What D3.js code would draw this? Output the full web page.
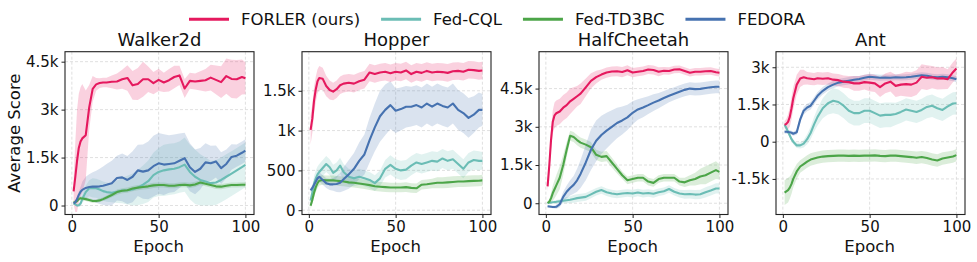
<!DOCTYPE html>
<html>
<head>
<meta charset="utf-8">
<script src="https://cdn.jsdelivr.net/npm/d3@7"></script>
<style>
  body { margin: 0; background: #fff; }
  text { font-family: "DejaVu Sans", sans-serif; fill: #111; }
</style>
</head>
<body>
<svg id="chart" width="977" height="262"></svg>
<script>
const epochs = [1,2,3,4,5,6,8,10,12,14, 16,18,20,23,26,29,32,35,38,41,
  44,47,50,53,56,59,62,65,68,71, 74,77,80,83,86,89,92,95,98,100];

const methods = ["FORLER (ours)", "Fed-CQL", "Fed-TD3BC", "FEDORA"];
const envs = ["Walker2d", "Hopper", "HalfCheetah", "Ant"];
const xTicks = [0, 50, 100];

// y ticks + labels for every env
const walkerTicks = [0, 1500, 3000, 4500], walkerLabels = ["0", "1.5k", "3k", "4.5k"];
const hopperTicks = [0, 500, 1000, 1500], hopperLabels = ["0", "500", "1k", "1.5k"];
const cheetahTicks = [0, 1500, 3000, 4500], cheetahLabels = ["0", "1.5k", "3k", "4.5k"];
const antTicks = [-1500, 0, 1500, 3000], antLabels = ["-1.5k", "0", "1.5k", "3k"];

// Walker2d
const walkerForler = [440,900,1400,1800,2000,2100,2200,3070,3650,3790,
  3830,3850,3850,3870,3880,3950,3990,3760,3800,3950,
  3950,3830,3930,3850,3920,4020,4070,3660,3900,3880,
  3900,3920,4000,3930,3860,4050,3960,3950,4020,3980];
const walkerForlerSd = [400,1100,1600,1700,1700,1700,1400,700,400,200,
  150,150,150,200,250,300,400,450,500,550,
  400,350,350,300,350,350,300,300,250,250,
  300,350,400,450,500,550,600,600,550,500];
const walkerCql = [70,40,0,10,60,200,420,540,550,540,
  500,450,420,400,430,470,480,500,560,650,
  760,950,1050,1100,1130,1150,1200,1280,1050,900,
  800,750,700,720,800,900,1000,1100,1200,1270];
const walkerCqlSd = [30,40,50,60,80,120,200,250,300,300,
  300,300,300,300,350,400,450,500,550,600,
  650,700,750,800,800,800,800,850,850,850,
  800,750,700,700,700,700,700,700,700,700];
const walkerTd3 = [100,110,140,200,230,220,200,170,140,140,
  160,200,250,330,420,460,480,530,560,580,
  600,630,640,640,620,620,640,650,630,660,
  720,680,640,600,590,620,640,640,650,650];
const walkerTd3Sd = [60,60,60,60,60,60,60,60,60,60,
  60,60,60,70,80,80,80,80,80,80,
  80,80,80,80,80,80,80,80,80,80,
  80,80,80,80,80,80,80,80,80,80];
const walkerFedora = [70,100,200,330,430,490,550,580,590,590,
  600,620,650,700,860,880,800,900,1100,1060,
  1100,1230,1320,1280,1300,1320,1400,1480,1200,1050,
  1150,1350,1320,1380,1170,1300,1520,1560,1650,1720];
const walkerFedoraSd = [50,60,80,100,150,250,350,400,450,500,
  550,600,650,700,700,750,750,800,800,850,
  900,950,950,950,900,900,850,800,750,700,
  650,600,550,500,500,450,400,350,350,350];

// Hopper
const hopperForler = [1010,1150,1380,1520,1620,1660,1650,1560,1510,1490,
  1520,1570,1590,1600,1590,1620,1640,1730,1710,1730,
  1740,1720,1740,1730,1755,1710,1740,1725,1750,1730,
  1740,1735,1725,1745,1750,1740,1765,1760,1750,1755];
const hopperForlerSd = [180,180,170,160,150,150,140,130,120,110,
  110,110,110,110,110,110,110,110,110,110,
  110,110,110,110,110,110,110,110,110,110,
  110,110,110,110,110,110,110,110,110,110];
const hopperCql = [120,220,330,400,450,480,530,580,540,470,
  500,560,480,420,400,420,400,380,340,400,
  520,570,520,500,510,560,600,580,600,620,
  610,650,620,640,580,520,600,630,620,620];
const hopperCqlSd = [60,80,100,100,100,100,100,100,100,100,
  100,100,100,100,100,100,100,100,100,100,
  110,120,120,120,120,120,120,120,120,120,
  120,120,120,120,120,120,120,120,120,110];
const hopperTd3 = [55,130,220,290,340,370,380,375,375,375,
  370,365,360,350,345,335,325,315,300,295,
  290,285,285,285,290,280,275,320,325,335,
  345,345,350,355,360,360,365,368,370,375];
const hopperTd3Sd = [40,50,60,60,60,60,60,60,60,60,
  60,60,60,60,60,60,60,60,60,60,
  60,60,60,60,60,60,60,60,60,60,
  70,70,70,70,70,70,70,70,70,70];
const hopperFedora = [250,280,320,360,400,420,380,340,325,325,
  330,345,390,450,520,620,700,880,1040,1180,
  1260,1320,1250,1270,1300,1300,1320,1290,1340,1300,
  1340,1310,1290,1340,1260,1220,1160,1200,1260,1260];
const hopperFedoraSd = [30,40,50,50,60,60,60,60,70,80,
  100,120,150,180,200,230,250,280,300,320,
  320,300,280,270,260,250,250,250,250,250,
  250,250,250,250,250,250,250,230,220,200];

// HalfCheetah
const cheetahForler = [660,1500,2500,3200,3450,3530,3600,3750,3850,4000,
  4100,4200,4300,4550,4800,4950,5050,5130,5170,5180,
  5150,5220,5130,5160,5190,5250,5230,5160,5200,5190,
  5250,5260,5190,5120,5160,5160,5180,5190,5140,5120];
const cheetahForlerSd = [200,300,400,450,500,500,500,500,500,500,
  450,400,400,350,300,250,200,200,200,200,
  200,200,180,180,180,180,180,180,150,150,
  150,150,150,150,150,150,150,150,150,150];
const cheetahCql = [10,20,30,40,50,55,80,100,120,140,
  170,200,220,250,350,450,520,430,380,350,
  380,400,380,420,380,400,370,430,470,560,
  450,380,350,360,340,350,430,500,580,580];
const cheetahCqlSd = [30,30,40,50,60,70,80,100,120,130,
  150,150,150,150,150,150,150,150,150,150,
  150,150,150,150,150,150,150,150,150,150,
  150,150,170,170,180,180,200,200,200,200];
const cheetahTd3 = [10,60,200,400,550,700,1000,1500,2100,2650,
  2600,2480,2380,2300,2200,1900,1820,1850,1600,1350,
  1100,900,950,1000,1000,850,800,950,1000,1000,
  1000,850,820,900,950,1050,1100,1200,1300,1230];
const cheetahTd3Sd = [50,100,200,300,350,400,450,400,300,200,
  200,200,200,200,200,200,200,200,200,180,
  150,150,150,150,150,150,150,150,150,150,
  150,150,180,200,250,300,350,350,350,300];
const cheetahFedora = [-120,-130,-140,-150,-150,-140,-40,250,450,600,
  720,900,1150,1600,2100,2450,2680,2850,3000,3150,
  3250,3370,3550,3680,3760,3850,3950,4030,4130,4220,
  4300,4380,4450,4500,4480,4490,4520,4550,4570,4570];
const cheetahFedoraSd = [50,50,50,50,60,80,120,200,250,300,
  350,450,550,700,800,800,750,700,650,600,
  550,500,450,400,380,350,330,300,280,260,
  250,250,250,250,250,250,250,250,250,250];

// Ant
const antForler = [680,720,800,1000,1350,1750,2300,2550,2600,2560,
  2540,2520,2560,2540,2560,2500,2480,2420,2400,2350,
  2350,2400,2380,2350,2200,2350,2420,2250,2300,2320,
  2300,2380,2620,2580,2600,2550,2560,2520,2800,2950];
const antForlerSd = [150,200,300,400,450,450,400,350,300,250,
  250,250,250,250,250,250,250,250,250,300,
  300,300,350,350,400,400,400,450,450,500,
  500,500,500,500,450,450,450,400,400,400];
const antCql = [680,550,400,250,100,0,-150,-150,-80,100,
  350,700,1000,1350,1550,1650,1600,1450,1250,1150,
  1150,1250,1250,1150,1050,1080,1080,1120,1200,1300,
  1250,1200,1280,1400,1450,1350,1280,1420,1540,1550];
const antCqlSd = [100,100,100,100,100,100,100,120,150,200,
  250,300,350,400,450,500,500,500,500,500,
  500,500,500,500,500,500,500,450,450,450,
  450,450,450,450,450,450,450,450,450,450];
const antTd3 = [-2050,-2000,-1950,-1850,-1700,-1500,-1200,-1000,-900,-800,
  -720,-680,-640,-600,-580,-570,-560,-560,-570,-560,
  -570,-560,-560,-550,-570,-580,-560,-560,-580,-600,
  -620,-650,-620,-660,-720,-760,-680,-640,-600,-540];
const antTd3Sd = [500,500,500,450,400,350,300,250,250,250,
  250,250,250,250,250,250,250,250,250,250,
  250,250,250,250,250,250,250,250,250,250,
  250,250,250,250,250,250,250,250,250,250];
const antFedora = [400,400,390,380,360,320,380,900,1250,1380,
  1450,1650,1850,2050,2200,2300,2380,2420,2460,2500,
  2530,2580,2620,2600,2580,2590,2580,2600,2590,2600,
  2620,2650,2680,2660,2620,2600,2620,2600,2560,2520];
const antFedoraSd = [80,80,80,80,80,80,100,150,150,150,
  150,150,150,150,150,150,150,150,150,150,
  120,120,120,120,120,120,120,120,120,120,
  120,120,120,120,120,120,120,120,120,120];

// ---- layout / style ----
const colors = ["#e5195e", "#6bbdb5", "#4ca548", "#4672b0"];
const panelLefts = [65, 302, 539, 776];
const [panelW, plotTop, plotBottom] = [189, 51.7, 214.5];

// order of series inside each panel follows `methods`
const panels = [
  { name: envs[0], ticks: walkerTicks, labels: walkerLabels, yDomain: [-281, 4812],
    series: [[walkerForler, walkerForlerSd], [walkerCql, walkerCqlSd], [walkerTd3, walkerTd3Sd], [walkerFedora, walkerFedoraSd]] },
  { name: envs[1], ticks: hopperTicks, labels: hopperLabels, yDomain: [-54, 1991],
    series: [[hopperForler, hopperForlerSd], [hopperCql, hopperCqlSd], [hopperTd3, hopperTd3Sd], [hopperFedora, hopperFedoraSd]] },
  { name: envs[2], ticks: cheetahTicks, labels: cheetahLabels, yDomain: [-442, 5948],
    series: [[cheetahForler, cheetahForlerSd], [cheetahCql, cheetahCqlSd], [cheetahTd3, cheetahTd3Sd], [cheetahFedora, cheetahFedoraSd]] },
  { name: envs[3], ticks: antTicks, labels: antLabels, yDomain: [-2934, 3627],
    series: [[antForler, antForlerSd], [antCql, antCqlSd], [antTd3, antTd3Sd], [antFedora, antFedoraSd]] }
];

const svg = d3.select("#chart");

// draw order: baselines first, ours last (on top)
const drawOrder = [1, 2, 3, 0];

panels.forEach((p, pi) => {
  const left = panelLefts[pi];
  const x = d3.scaleLinear().domain([-3.95, 104.95]).range([left, left + panelW]);
  const y = d3.scaleLinear().domain(p.yDomain).range([plotBottom, plotTop]);
  const g = svg.append("g");

  // grid
  g.selectAll("line.gx").data(xTicks).enter().append("line")
    .attr("x1", d => x(d)).attr("x2", d => x(d))
    .attr("y1", plotTop).attr("y2", plotBottom)
    .attr("stroke", "#d8d8d8").attr("stroke-width", 0.8).attr("stroke-dasharray", "3,2");
  g.selectAll("line.gy").data(p.ticks).enter().append("line")
    .attr("x1", left).attr("x2", left + panelW)
    .attr("y1", d => y(d)).attr("y2", d => y(d))
    .attr("stroke", "#d8d8d8").attr("stroke-width", 0.8).attr("stroke-dasharray", "3,2");

  const clipId = "clip" + pi;
  g.append("clipPath").attr("id", clipId).append("rect")
    .attr("x", left).attr("y", plotTop).attr("width", panelW).attr("height", plotBottom - plotTop);
  const plot = g.append("g").attr("clip-path", `url(#${clipId})`);

  // bands
  drawOrder.forEach(si => {
    const [mean, sd] = p.series[si];
    const area = d3.area()
      .x((d, i) => x(epochs[i]))
      .y0((d, i) => y(d - sd[i]))
      .y1((d, i) => y(d + sd[i]));
    plot.append("path").attr("d", area(mean))
      .attr("fill", colors[si]).attr("fill-opacity", 0.2).attr("stroke", "none");
  });
  // lines
  drawOrder.forEach(si => {
    const mean = p.series[si][0];
    const line = d3.line().x((d, i) => x(epochs[i])).y(d => y(d));
    plot.append("path").attr("d", line(mean))
      .attr("fill", "none").attr("stroke", colors[si])
      .attr("stroke-width", 2.1).attr("stroke-linejoin", "round");
  });

  // axes
  const xAxis = d3.axisBottom(x).tickValues(xTicks).tickSize(3.5).tickPadding(3).tickFormat(d3.format("d"));
  const yAxis = d3.axisLeft(y).tickValues(p.ticks).tickSize(3.5).tickPadding(3)
    .tickFormat((d, i) => p.labels[i]);
  const gx = g.append("g").attr("transform", `translate(0,${plotBottom})`).call(xAxis);
  const gy = g.append("g").attr("transform", `translate(${left},0)`).call(yAxis);
  [gx, gy].forEach(a => {
    a.select(".domain").remove();
    a.selectAll("line").attr("stroke", "#222");
    a.selectAll("text").style("font-size", "15px").attr("fill", "#111");
  });

  // frame
  g.append("rect").attr("x", left).attr("y", plotTop).attr("width", panelW).attr("height", plotBottom - plotTop)
    .attr("fill", "none").attr("stroke", "#222").attr("stroke-width", 1.1);

  // title and x label
  g.append("text").text(p.name)
    .attr("x", left + panelW / 2).attr("y", 45.8)
    .attr("text-anchor", "middle").style("font-size", "18px");
  g.append("text").text("Epoch")
    .attr("x", x(50)).attr("y", 251.5)
    .attr("text-anchor", "middle").style("font-size", "16.5px");
});

// y label
svg.append("text").text("Average Score")
  .attr("transform", `translate(19.5,${(plotTop + plotBottom) / 2}) rotate(-90)`)
  .attr("text-anchor", "middle").style("font-size", "16.5px");

// legend
const legend = svg.append("g");
let lx = 189;
methods.forEach((m, i) => {
  legend.append("line").attr("x1", lx).attr("x2", lx + 40).attr("y1", 19.3).attr("y2", 19.3)
    .attr("stroke", colors[i]).attr("stroke-width", 3);
  const t = legend.append("text").text(m).attr("x", lx + 52).attr("y", 24.8).style("font-size", "16.5px");
  lx += 52 + t.node().getComputedTextLength() + 21;
});
</script>
</body>
</html>
